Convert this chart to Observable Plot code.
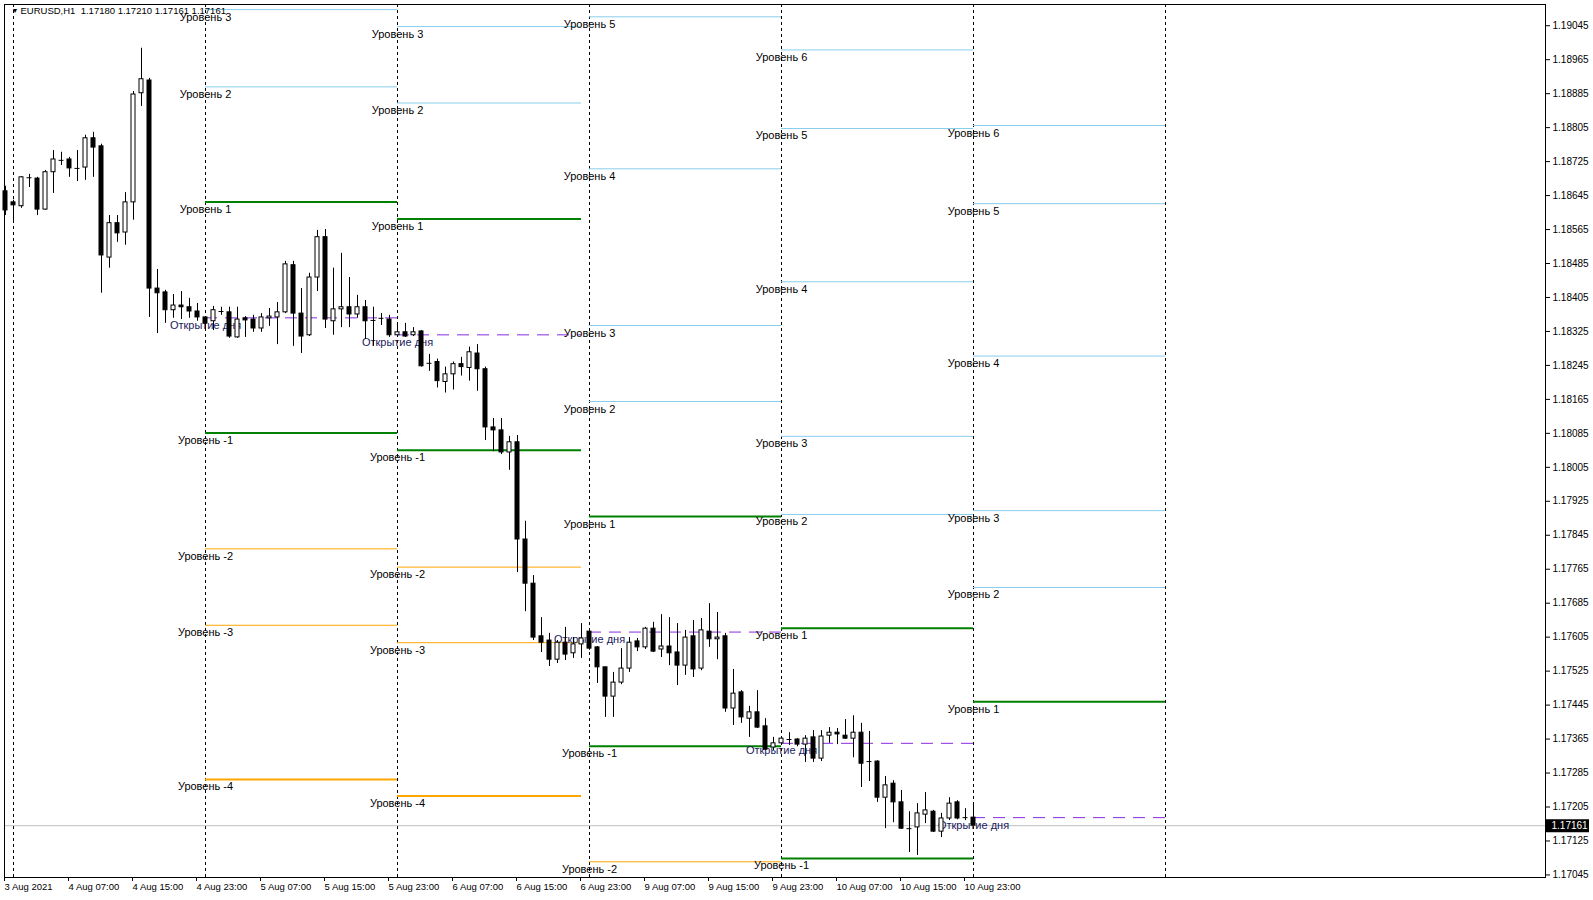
<!DOCTYPE html>
<html>
<head>
<meta charset="utf-8">
<script src="https://cdn.jsdelivr.net/npm/d3@7"></script>
<script src="https://cdn.jsdelivr.net/npm/@observablehq/plot@0.6"></script>
<style>
  html, body { margin: 0; padding: 0; background: #f0f0f0; overflow: hidden; }
  #chart svg { display: block; }
</style>
</head>
<body>
<div id="chart"></div>
<script>
// ---------- DATA ----------
const symbolHeader = "EURUSD,H1\u00a0\u00a01.17180 1.17210 1.17161 1.17161";
const firstBar = -1; // bar index of "3 Aug 23:00"
const opens = [1.18655,1.18629,1.18620,1.18687,1.18685,1.18612,1.18700,1.18728,1.18730,1.18709,1.18711,1.18780,1.18761,1.18499,1.18580,1.18558,1.18629,1.18886,1.18916,1.18426,1.18417,1.18375,1.18386,1.18382,1.18372,1.18358,1.18349,1.18372,1.18370,1.18311,1.18356,1.18353,1.18332,1.18356,1.18358,1.18370,1.18481,1.18367,1.18316,1.18452,1.18547,1.18349,1.18377,1.18382,1.18365,1.18382,1.18351,1.18356,1.18353,1.18316,1.18323,1.18316,1.18325,1.18250,1.18253,1.18206,1.18224,1.18248,1.18239,1.18273,1.18236,1.18099,1.18092,1.18040,1.18064,1.17835,1.17731,1.17607,1.17597,1.17552,1.17592,1.17567,1.17588,1.17618,1.17581,1.17534,1.17465,1.17498,1.17531,1.17595,1.17581,1.17625,1.17576,1.17583,1.17569,1.17538,1.17607,1.17531,1.17618,1.17600,1.17607,1.17437,1.17475,1.17413,1.17428,1.17395,1.17345,1.17355,1.17364,1.17364,1.17352,1.17369,1.17319,1.17373,1.17380,1.17373,1.17366,1.17380,1.17312,1.17312,1.17227,1.17260,1.17216,1.17154,1.17157,1.17187,1.17194,1.17147,1.17178,1.17216,1.17180,1.17180];
const highs = [1.18667,1.18634,1.18690,1.18695,1.18688,1.18704,1.18751,1.18747,1.18735,1.18751,1.18787,1.18794,1.18766,1.18598,1.18598,1.18652,1.18890,1.18992,1.18921,1.18471,1.18422,1.18412,1.18419,1.18403,1.18391,1.18360,1.18384,1.18382,1.18382,1.18382,1.18360,1.18363,1.18367,1.18379,1.18393,1.18490,1.18490,1.18426,1.18462,1.18563,1.18565,1.18474,1.18509,1.18452,1.18410,1.18398,1.18382,1.18367,1.18363,1.18344,1.18344,1.18334,1.18327,1.18271,1.18260,1.18241,1.18253,1.18264,1.18288,1.18294,1.18241,1.18120,1.18120,1.18078,1.18080,1.17878,1.17750,1.17651,1.17614,1.17597,1.17628,1.17604,1.17637,1.17625,1.17583,1.17534,1.17522,1.17578,1.17604,1.17602,1.17628,1.17640,1.17658,1.17651,1.17637,1.17621,1.17644,1.17649,1.17684,1.17663,1.17614,1.17529,1.17479,1.17442,1.17479,1.17413,1.17369,1.17369,1.17380,1.17366,1.17373,1.17385,1.17385,1.17392,1.17390,1.17411,1.17420,1.17402,1.17383,1.17314,1.17277,1.17267,1.17244,1.17194,1.17213,1.17239,1.17197,1.17190,1.17227,1.17220,1.17201,1.17210];
const lows = [1.18598,1.18580,1.18615,1.18664,1.18598,1.18610,1.18650,1.18716,1.18688,1.18678,1.18681,1.18688,1.18415,1.18474,1.18535,1.18528,1.18587,1.18855,1.18358,1.18320,1.18344,1.18356,1.18353,1.18356,1.18349,1.18327,1.18327,1.18363,1.18309,1.18309,1.18311,1.18323,1.18323,1.18337,1.18294,1.18367,1.18290,1.18273,1.18313,1.18419,1.18332,1.18316,1.18334,1.18334,1.18356,1.18306,1.18290,1.18339,1.18311,1.18313,1.18311,1.18313,1.18241,1.18231,1.18192,1.18180,1.18187,1.18220,1.18208,1.18184,1.18068,1.18042,1.18035,1.17998,1.17757,1.17665,1.17597,1.17569,1.17536,1.17543,1.17550,1.17555,1.17555,1.17574,1.17496,1.17416,1.17416,1.17493,1.17522,1.17571,1.17576,1.17569,1.17557,1.17538,1.17491,1.17515,1.17510,1.17526,1.17581,1.17552,1.17428,1.17397,1.17402,1.17369,1.17390,1.17338,1.17338,1.17352,1.17350,1.17347,1.17310,1.17310,1.17312,1.17355,1.17352,1.17364,1.17321,1.17251,1.17265,1.17216,1.17154,1.17168,1.17152,1.17098,1.17091,1.17166,1.17145,1.17133,1.17173,1.17175,1.17173,1.17161];
const closes = [1.18610,1.18622,1.18688,1.18687,1.18612,1.18700,1.18730,1.18728,1.18709,1.18709,1.18780,1.18758,1.18504,1.18580,1.18556,1.18629,1.18883,1.18919,1.18426,1.18415,1.18375,1.18386,1.18382,1.18372,1.18358,1.18344,1.18375,1.18372,1.18313,1.18353,1.18351,1.18332,1.18358,1.18360,1.18370,1.18483,1.18367,1.18313,1.18452,1.18547,1.18353,1.18377,1.18382,1.18365,1.18382,1.18349,1.18351,1.18356,1.18316,1.18323,1.18313,1.18323,1.18243,1.18250,1.18208,1.18224,1.18248,1.18241,1.18276,1.18236,1.18099,1.18092,1.18040,1.18064,1.17835,1.17731,1.17604,1.17592,1.17552,1.17592,1.17564,1.17588,1.17602,1.17578,1.17534,1.17465,1.17498,1.17531,1.17592,1.17581,1.17625,1.17571,1.17583,1.17567,1.17538,1.17604,1.17529,1.17621,1.17600,1.17604,1.17437,1.17472,1.17416,1.17428,1.17392,1.17340,1.17355,1.17366,1.17364,1.17352,1.17366,1.17319,1.17371,1.17380,1.17376,1.17366,1.17380,1.17307,1.17312,1.17227,1.17256,1.17216,1.17154,1.17154,1.17190,1.17197,1.17147,1.17178,1.17213,1.17178,1.17180,1.17161];

const xTickIdx = [-1, 7, 15, 23, 31, 39, 47, 55, 63, 71, 79, 87, 95, 103, 111, 119];
const xTickLabels = ["3 Aug 2021","4 Aug 07:00","4 Aug 15:00","4 Aug 23:00","5 Aug 07:00","5 Aug 15:00","5 Aug 23:00","6 Aug 07:00","6 Aug 15:00","6 Aug 23:00","9 Aug 07:00","9 Aug 15:00","9 Aug 23:00","10 Aug 07:00","10 Aug 15:00","10 Aug 23:00"];
const yTicks = [1.17045,1.17125,1.17205,1.17285,1.17365,1.17445,1.17525,1.17605,1.17685,1.17765,1.17845,1.17925,1.18005,1.18085,1.18165,1.18245,1.18325,1.18405,1.18485,1.18565,1.18645,1.18725,1.18805,1.18885,1.18965,1.19045];
const bidPrice = 1.17161;

const daySeparators = [0, 24, 48, 72, 96, 120, 144];
const dayStart = [24, 48, 72, 96, 120];
const dayEnd   = [48, 71, 96, 120, 144];
const dayOpen  = [1.18357, 1.18317, 1.17617, 1.17355, 1.17180];
const openLabel = "Открытие дня";
const levelWord = "Уровень";

const levelDay   = [0,0,0,0,0,0,0, 1,1,1,1,1,1,1, 2,2,2,2,2,2,2, 3,3,3,3,3,3,3, 4,4,4,4,4,4];
const levelNum   = [3,2,1,-1,-2,-3,-4, 3,2,1,-1,-2,-3,-4, 5,4,3,2,1,-1,-2, 6,5,4,3,2,1,-1, 6,5,4,3,2,1];
const levelPrice = [1.19083,1.18901,1.18630,1.18086,1.17813,1.17633,1.17270,
                    1.19043,1.18863,1.18590,1.18045,1.17770,1.17592,1.17231,
                    1.19066,1.18708,1.18339,1.18160,1.17889,1.17348,1.17076,
                    1.18988,1.18803,1.18442,1.18078,1.17894,1.17626,1.17084,
                    1.18810,1.18626,1.18267,1.17903,1.17722,1.17453];

// ---------- TABLES ----------
const candles = opens.map((o, k) => ({i: firstBar + k, o, h: highs[k], l: lows[k], c: closes[k]}));
const bodies = candles.filter(d => d.o !== d.c);
const dojis = candles.filter(d => d.o === d.c);
const days = dayStart.map((s, k) => ({start: s, end: dayEnd[k], open: dayOpen[k]}));
const levels = levelPrice.map((p, k) => ({
  p, n: levelNum[k], start: dayStart[levelDay[k]], end: dayEnd[levelDay[k]]
}));
const lvGreen = levels.filter(d => Math.abs(d.n) === 1);
const lvBlue = levels.filter(d => d.n >= 2);
const lvOrange = levels.filter(d => d.n === -2 || d.n === -3);
const lvOrangeThick = levels.filter(d => d.n <= -4);
const tickLabel = new Map(xTickIdx.map((v, k) => [v, xTickLabels[k]]));

const FONT = "'Liberation Sans', Arial, sans-serif";
const half = 0.25;

const plot = Plot.plot({
  width: 1593,
  height: 900,
  marginLeft: 4,
  marginRight: 48,
  marginTop: 4,
  marginBottom: 23,
  style: {background: "white", color: "black", fontFamily: FONT, fontSize: "10px"},
  x: {domain: [-1.125, 191.5], label: null},
  y: {domain: [1.17039, 1.19095], label: null},
  marks: [
    // day separators
    Plot.ruleX(daySeparators, {x: d => d, stroke: "black", strokeDasharray: "3,3"}),
    // bid line
    Plot.ruleY([bidPrice], {y: d => d, stroke: "#c0c0c0"}),
    // level lines
    Plot.ruleY(lvBlue, {y: "p", x1: "start", x2: "end", stroke: "#87CEEB", strokeWidth: 1}),
    Plot.ruleY(lvOrange, {y: "p", x1: "start", x2: "end", stroke: "#FFA500", strokeWidth: 1}),
    Plot.ruleY(lvOrangeThick, {y: "p", x1: "start", x2: "end", stroke: "#FFA500", strokeWidth: 2}),
    Plot.ruleY(lvGreen, {y: "p", x1: "start", x2: "end", stroke: "#008000", strokeWidth: 2}),
    Plot.ruleY(days, {y: "open", x1: "start", x2: "end", stroke: "#8A2BE2", strokeDasharray: "12,8"}),
    // labels
    Plot.text(levels, {x: "start", y: "p", text: d => `${levelWord} ${d.n}`, textAnchor: "middle",
      lineAnchor: "bottom", dy: 11, fontSize: 11, fontFamily: FONT, fill: "black"}),
    Plot.text(days, {x: "start", y: "open", text: () => openLabel, textAnchor: "middle",
      lineAnchor: "bottom", dy: 11, fontSize: 11, fontFamily: FONT, fill: "#1a1a60"}),
    // candles
    Plot.ruleX(candles, {x: "i", y1: "l", y2: "h", stroke: "black"}),
    Plot.rect(bodies, {x1: d => d.i - half, x2: d => d.i + half, y1: "o", y2: "c",
      fill: d => d.c > d.o ? "white" : "black", stroke: "black", strokeWidth: 1}),
    Plot.ruleY(dojis, {y: "o", x1: d => d.i - half - 0.06, x2: d => d.i + half + 0.06, stroke: "black"}),
    // frame and axes
    Plot.frame({stroke: "black"}),
    Plot.axisY(yTicks, {anchor: "right", tickSize: 4, tickPadding: 3, label: null,
      tickFormat: d => d.toFixed(5), fontSize: 10}),
    Plot.axisX(xTickIdx, {anchor: "bottom", tickSize: 4, tickPadding: 2, label: null,
      tickFormat: d => tickLabel.get(d), textAnchor: "start", dx: -1, fontSize: 9.5}),
    // bid price box on the price axis
    Plot.ruleY([bidPrice], {y: d => d, stroke: "black", strokeWidth: 13, insetLeft: 1542, insetRight: -44}),
    Plot.text([bidPrice], {y: d => d, text: d => d.toFixed(5), frameAnchor: "right", dx: 6,
      textAnchor: "start", fill: "white", fontSize: 10}),
    // header
    Plot.text(["\u25BC"], {frameAnchor: "top-left", dx: 7, dy: 4, textAnchor: "start", lineAnchor: "top", fontSize: 7}),
    Plot.text([symbolHeader], {frameAnchor: "top-left", dx: 16, dy: 3, textAnchor: "start", lineAnchor: "top",
      fontSize: 9.5, fill: "black"})
  ]
});
document.getElementById("chart").appendChild(plot);
</script>
</body>
</html>
